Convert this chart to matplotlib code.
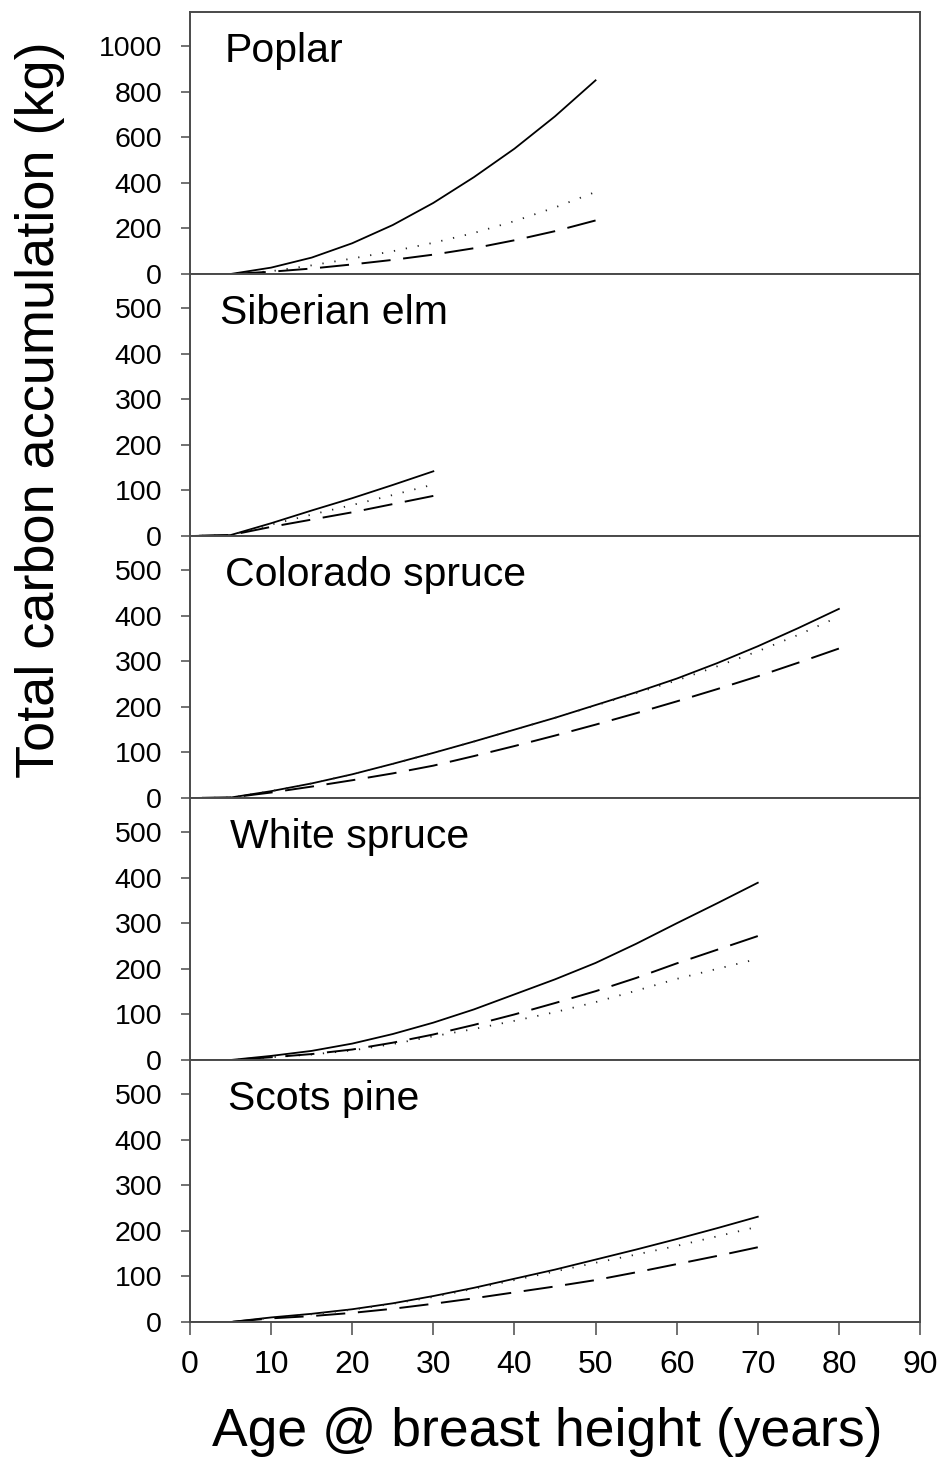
import numpy as np
import matplotlib
matplotlib.use("Agg")
import matplotlib.pyplot as plt

plt.rcParams['font.family'] = ['Liberation Sans', 'DejaVu Sans']

# Species panels, top to bottom
species = ["Poplar", "Siberian elm", "Colorado spruce", "White spruce", "Scots pine"]

# Age (years at breast height) and carbon accumulation (kg) for three curves per species
poplar_age = [0, 5, 10, 15, 20, 25, 30, 35, 40, 45, 50]
poplar_solid = [0, 0, 28, 72, 135, 215, 312, 425, 550, 692, 850]
poplar_dotted = [0, 0, 12, 38, 68, 100, 137, 180, 232, 292, 360]
poplar_dashed = [0, 0, 10, 24, 42, 62, 85, 113, 148, 188, 235]

elm_age = [0, 5, 10, 15, 20, 25, 30]
elm_solid = [0, 2, 28, 56, 83, 112, 142]
elm_dotted = [0, 2, 25, 47, 68, 90, 113]
elm_dashed = [0, 2, 20, 36, 52, 70, 88]

colorado_age = [0, 5, 10, 15, 20, 25, 30, 35, 40, 45, 50, 55, 60, 65, 70, 75, 80]
colorado_solid = [0, 1, 15, 32, 52, 75, 99, 124, 150, 176, 204, 232, 262, 296, 333, 373, 415]
colorado_dotted = [0, 1, 15, 32, 52, 75, 99, 124, 150, 176, 203, 230, 258, 289, 322, 358, 398]
colorado_dashed = [0, 1, 12, 25, 39, 54, 71, 92, 114, 137, 161, 186, 212, 239, 267, 297, 328]

white_age = [0, 5, 10, 15, 20, 25, 30, 35, 40, 45, 50, 55, 60, 65, 70]
white_solid = [0, 0, 9, 20, 36, 57, 82, 111, 144, 177, 213, 255, 300, 344, 389]
white_dotted = [0, 0, 6, 12, 21, 35, 52, 68, 86, 105, 127, 152, 178, 200, 222]
white_dashed = [0, 0, 6, 13, 23, 38, 56, 77, 100, 125, 151, 180, 212, 242, 272]

scots_age = [0, 5, 10, 15, 20, 25, 30, 35, 40, 45, 50, 55, 60, 65, 70]
scots_solid = [0, 0, 10, 18, 28, 41, 57, 75, 95, 115, 137, 159, 182, 206, 231]
scots_dotted = [0, 0, 9, 17, 27, 40, 55, 73, 92, 111, 130, 148, 167, 188, 209]
scots_dashed = [0, 0, 8, 13, 20, 29, 40, 52, 65, 78, 92, 109, 127, 145, 164]

panels = [
    (poplar_age, poplar_solid, poplar_dotted, poplar_dashed),
    (elm_age, elm_solid, elm_dotted, elm_dashed),
    (colorado_age, colorado_solid, colorado_dotted, colorado_dashed),
    (white_age, white_solid, white_dotted, white_dashed),
    (scots_age, scots_solid, scots_dotted, scots_dashed),
]

y_limits = [1150, 575, 575, 575, 575]
y_ticks = [list(range(0, 1001, 200))] + [list(range(0, 501, 100))] * 4
x_ticks = list(range(0, 91, 10))

DPI = 100
W, H = 939, 1460
fig = plt.figure(figsize=(W / DPI, H / DPI), dpi=DPI)

left_px, right_px = 190, 920
top_px, bottom_px = 12, 1322
panel_h = (bottom_px - top_px) / 5

spine_color = "#4a4a4a"
title_x = [225, 220, 225, 230, 228]

DASH_ON, DASH_OFF, DASH_LW = 15, 6.5, 1.4


def end_on_dash(ax, x, y):
    """Dash offset so that the pattern finishes on a full dash at the curve's end."""
    pts = ax.transData.transform(np.column_stack([x, y]))
    length_px = np.sum(np.hypot(*np.diff(pts, axis=0).T))
    length_units = length_px * 72 / DPI / DASH_LW
    period = DASH_ON + DASH_OFF
    return (DASH_ON - length_units) % period


for i, (name, (age, solid, dotted, dashed)) in enumerate(zip(species, panels)):
    y0 = top_px + i * panel_h
    ax = fig.add_axes([left_px / W, 1 - (y0 + panel_h) / H,
                       (right_px - left_px) / W, panel_h / H])
    ax.set_xlim(0, 90)
    ax.set_ylim(0, y_limits[i])
    ax.plot(age, solid, color="black", lw=1.3, ls="-")
    ax.plot(age, dotted, color="#222222", lw=1.3, ls=(0, (0.7, 6)))
    off = end_on_dash(ax, age, dashed)
    ax.plot(age, dashed, color="black", lw=DASH_LW, ls=(off, (DASH_ON, DASH_OFF)))
    ax.set_yticks(y_ticks[i])
    ax.set_xticks(x_ticks)
    for s in ax.spines.values():
        s.set_color(spine_color)
        s.set_linewidth(1.4)
    ax.tick_params(axis="y", direction="out", length=6.5, width=1.1,
                   color=spine_color, labelsize=20.5, pad=13.5)
    if i < 4:
        ax.tick_params(axis="x", bottom=False, labelbottom=False)
    else:
        ax.tick_params(axis="x", direction="out", length=9, width=1.1,
                       color=spine_color, labelsize=23, pad=11)
    fig.text(title_x[i] / W, 1 - (y0 + 50) / H, name, fontsize=29.5,
             ha="left", va="baseline")

fig.text(40 / W, 1 - 410 / H, "Total carbon accumulation (kg)",
         rotation=90, fontsize=39, ha="center", va="center")
fig.text(547 / W, 1 - 1432 / H, "Age @ breast height (years)",
         fontsize=38.5, ha="center", va="center")

fig.savefig("out.png", dpi=DPI)
